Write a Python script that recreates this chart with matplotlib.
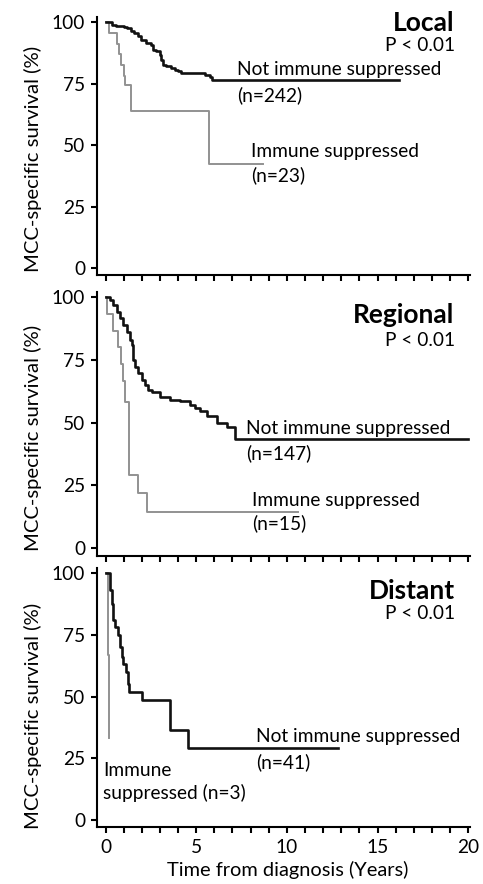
import numpy as np
import matplotlib
matplotlib.use("Agg")
import matplotlib.pyplot as plt

plt.rcParams['font.family'] = ['Lato', 'DejaVu Sans']

# Kaplan-Meier curves (time in years, survival in %)
local_not_t = [0, 0.37, 0.56, 1.02, 1.21, 1.4, 1.58, 1.77, 1.96, 2.23, 2.51, 2.6, 2.79,
               2.98, 3.07, 3.17, 3.35, 3.63, 3.82, 4.0, 4.19, 5.21, 5.49, 5.77, 5.87]
local_not_s = [100, 98.9, 98.6, 98.2, 97.6, 96.6, 95.6, 94.3, 92.8, 91.5, 90.8, 88.8, 88.1,
               86.7, 84.7, 82.7, 82.0, 81.3, 80.6, 80.0, 79.5, 79.2, 78.6, 77.9, 76.3]
local_not_end = 16.2
local_is_t = [0, 0.19, 0.65, 0.75, 0.85, 1.02, 1.1, 1.4, 5.68]
local_is_s = [100, 95.6, 91.3, 87.0, 82.6, 78.3, 74.5, 63.8, 42.5]
local_is_end = 8.66

reg_not_t = [0, 0.25, 0.43, 0.62, 0.8, 0.98, 1.17, 1.35, 1.44, 1.5, 1.53, 1.63, 1.81, 2.0,
             2.18, 2.36, 2.55, 3.01, 3.56, 4.11, 4.66, 4.94, 5.21, 5.58, 6.13, 6.69, 7.15]
reg_not_s = [100, 98.9, 96.9, 94.3, 91.6, 89.0, 86.3, 83.0, 81.0, 77.7, 75.0, 72.4, 69.7, 67.1,
             65.1, 63.1, 62.4, 60.4, 59.1, 58.5, 57.1, 55.8, 54.5, 52.5, 49.8, 48.5, 43.5]
reg_not_end = 20.0
reg_is_t = [0, 0.1, 0.43, 0.71, 0.84, 0.95, 1.08, 1.32, 1.81, 2.27]
reg_is_s = [100, 93.3, 86.7, 80.0, 73.3, 66.7, 58.3, 29.2, 21.9, 14.6]
reg_is_end = 10.6

dist_not_t = [0, 0.25, 0.34, 0.4, 0.52, 0.71, 0.8, 0.89, 0.98, 1.13, 1.26, 1.31, 1.99, 3.56, 4.57]
dist_not_s = [100, 93.1, 87.7, 81.0, 78.3, 74.9, 70.2, 66.2, 63.4, 60.1, 55.3, 51.9, 48.5, 36.5, 29.1]
dist_not_end = 12.83
dist_is_t = [0, 0.15, 0.22]
dist_is_s = [100, 66.7, 33.3]
dist_is_end = 0.22

panels = [
    dict(title="Local", t1=local_not_t, s1=local_not_s, e1=local_not_end,
         t2=local_is_t, s2=local_is_s, e2=local_is_end,
         rect=[0.2008, 0.6885, 0.7723, 0.2919], ty=99.8, py=90.4, ylab=159,
         labels=[("Not immune suppressed", 7.24, 80.6), ("(n=242)", 7.24, 70.4),
                 ("Immune suppressed", 8.01, 47.3), ("(n=23)", 8.01, 37.9)]),
    dict(title="Regional", t1=reg_not_t, s1=reg_not_s, e1=reg_not_end,
         t2=reg_is_t, s2=reg_is_s, e2=reg_is_end,
         rect=[0.2008, 0.3713, 0.7723, 0.2981], ty=93.0, py=82.7, ylab=438,
         labels=[("Not immune suppressed", 7.74, 47.8), ("(n=147)", 7.74, 37.8),
                 ("Immune suppressed", 8.1, 19.2), ("(n=15)", 8.1, 10.0)]),
    dict(title="Distant", t1=dist_not_t, s1=dist_not_s, e1=dist_not_end,
         t2=dist_is_t, s2=dist_is_s, e2=dist_is_end,
         rect=[0.2008, 0.0640, 0.7723, 0.2930], ty=92.8, py=83.7, ylab=716,
         labels=[("Not immune suppressed", 8.29, 33.7), ("(n=41)", 8.29, 23.6),
                 ("Immune", -0.15, 20.2), ("suppressed (n=3)", -0.15, 10.8)]),
]

W, H = 483, 884
fig = plt.figure(figsize=(W / 100, H / 100), dpi=100)
fs = 13.8

for k, p in enumerate(panels):
    ax = fig.add_axes(p["rect"])
    ax.step(p["t2"] + [p["e2"]], p["s2"] + [p["s2"][-1]], where="post",
            color="#929292", lw=1.4)
    ax.step(p["t1"] + [p["e1"]], p["s1"] + [p["s1"][-1]], where="post",
            color="#111111", lw=1.9)
    ax.set_xlim(-0.47, 20.1)
    ax.set_ylim(-3, 102)
    for s in ["top", "right"]:
        ax.spines[s].set_visible(False)
    for s in ["left", "bottom"]:
        ax.spines[s].set_linewidth(1.5)
    ax.set_yticks([0, 25, 50, 75, 100])
    ax.set_xticks(np.arange(0, 21, 1))
    if k == 2:
        ax.set_xticklabels([str(v) if v % 5 == 0 else "" for v in range(21)])
    else:
        ax.set_xticklabels([])
    ax.tick_params(direction="out", length=4.5, width=1.5, labelsize=fs)
    ax.tick_params(axis="y", pad=4)
    ax.tick_params(axis="x", pad=4)
    fig.text(33 / W, 1 - p["ylab"] / H, "MCC-specific survival (%)", fontsize=14.6,
             rotation=90, ha="center", va="center")
    ax.text(19.25, p["ty"], p["title"], fontsize=19, fontweight="bold",
            ha="right", va="center")
    ax.text(19.3, p["py"], "P < 0.01", fontsize=fs, ha="right", va="center")
    for txt, x, y in p["labels"]:
        ax.text(x, y, txt, fontsize=fs, ha="left", va="center")

fig.text(287.5 / W, 1 - 870 / H, "Time from diagnosis (Years)", fontsize=fs + 0.6,
         ha="center", va="center")

fig.savefig("out.png", dpi=100)
